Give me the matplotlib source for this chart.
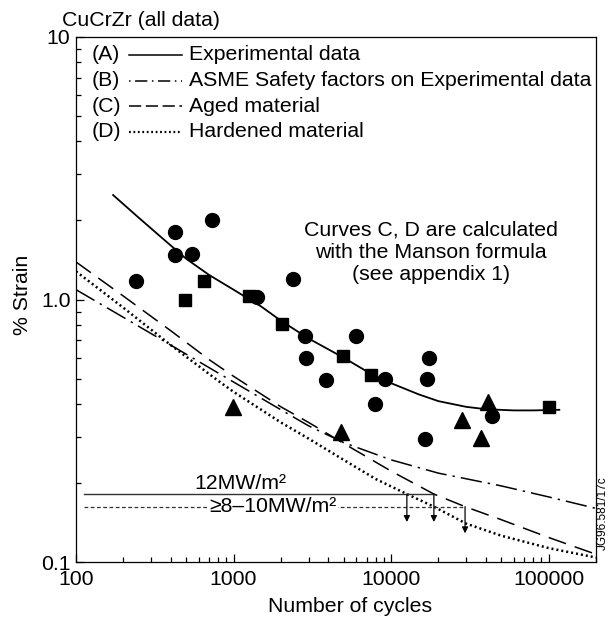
import matplotlib
matplotlib.use("Agg")
import matplotlib.pyplot as plt
from matplotlib.ticker import LogLocator, NullFormatter

plt.rcParams['font.family'] = ['Liberation Sans', 'DejaVu Sans']

# ---- data ----
circle_n = [241, 423, 423, 546, 734, 1416, 2399, 2846, 2870, 3855, 5986,
            9120, 7960, 17380, 16800, 16500, 43900]
circle_s = [1.18, 1.80, 1.48, 1.49, 2.0, 1.02, 1.2, 0.725, 0.60, 0.494, 0.724,
            0.50, 0.40, 0.597, 0.50, 0.293, 0.36]
square_n = [494, 647, 1250, 2043, 4920, 7500, 101000]
square_s = [1.0, 1.18, 1.03, 0.81, 0.61, 0.515, 0.39]
tri_n = [990, 4840, 28400, 41100, 37300]
tri_s = [0.39, 0.314, 0.347, 0.408, 0.297]

# (A) experimental fit
a_n = [172, 250, 350, 500, 700, 1000, 1500, 2000, 3000, 5000, 7500, 10000,
       15000, 20000, 30000, 40000, 60000, 80000, 117000]
a_s = [2.5, 2.05, 1.72, 1.43, 1.24, 1.09, 0.94, 0.83, 0.71, 0.60, 0.52, 0.48,
       0.435, 0.41, 0.39, 0.382, 0.378, 0.378, 0.38]
# (B) ASME safety factors
b_n = [100, 200, 400, 700, 1000, 2000, 3000, 5000, 10000, 20000, 50000, 100000, 200000]
b_s = [1.09, 0.855, 0.67, 0.55, 0.485, 0.38, 0.33, 0.285, 0.245, 0.218, 0.195, 0.177, 0.16]
# (C) aged material
c_n = [100, 200, 400, 700, 1000, 2000, 3000, 5000, 10000, 18700, 29500, 50000, 100000, 200000]
c_s = [1.39, 1.03, 0.76, 0.59, 0.51, 0.39, 0.34, 0.283, 0.222, 0.1815, 0.1625, 0.145, 0.124, 0.107]
# (D) hardened material
d_n = [100, 200, 400, 800, 1000, 2000, 3000, 5000, 8000, 12600, 18700, 30000, 50000, 100000, 200000]
d_s = [1.28, 0.93, 0.67, 0.49, 0.445, 0.34, 0.295, 0.245, 0.207, 0.1815, 0.1625, 0.14, 0.126, 0.113, 0.104]

# heat flux limits
flux_12 = 0.1815
flux_8 = 0.1625
flux_start = 112
flux_12_end = 18700
flux_8_end = 29500
arrow_n = [12600, 18700, 29500]
arrow_top = [0.1815, 0.1815, 0.1625]
arrow_bottom = [0.142, 0.142, 0.1286]

W, H = 611, 621
fig = plt.figure(figsize=(W / 100, H / 100), dpi=100)
L, R, T, B = 76, 596, 37, 562
ax = fig.add_axes([L / W, 1 - B / H, (R - L) / W, (B - T) / H])

FS = 15.3

ax.set_xscale('log')
ax.set_yscale('log')
ax.set_xlim(100, 2e5)
ax.set_ylim(0.1, 10)

# curves
ax.plot(a_n, a_s, color='black', lw=1.3)
ax.plot(b_n, b_s, color='black', lw=1.1, dashes=(14, 4, 1.5, 4))
ax.plot(c_n, c_s, color='black', lw=1.1, dashes=(12, 6))
ax.plot(d_n, d_s, color='black', lw=1.8, dashes=(0.8, 1.2))

# data points
ax.plot(circle_n, circle_s, 'o', color='black', ms=10)
ax.plot(square_n, square_s, 's', color='black', ms=9)
ax.plot(tri_n, tri_s, '^', color='black', ms=12)

# heat flux lines + arrows
ax.plot([flux_start, flux_12_end], [flux_12, flux_12], color='#333333', lw=1.0)
ax.plot([flux_start, flux_8_end], [flux_8, flux_8], color='#333333', lw=0.9, dashes=(3, 2))
for xn, yt, yb in zip(arrow_n, arrow_top, arrow_bottom):
    ax.annotate('', xy=(xn, yb), xytext=(xn, yt),
                arrowprops=dict(arrowstyle='-|>', lw=0.9, color='black',
                                mutation_scale=9, shrinkA=0, shrinkB=0))
ax.text(1100, 0.199, '12MW/m²', fontsize=FS, ha='center', va='center')
ax.text(1785, flux_8, '≥8–10MW/m²', fontsize=FS, ha='center', va='center',
        bbox=dict(facecolor='white', edgecolor='none', pad=1))

# annotation
ax.text(0.683, 0.590, 'Curves C, D are calculated\nwith the Manson formula\n(see appendix 1)',
        transform=ax.transAxes, fontsize=FS, ha='center', va='center', linespacing=1.2)

# hand-drawn style legend
def axpt(x, y):
    return (x - L) / (R - L), (B - y) / (B - T)

legend_rows = [('(A)', 'Experimental data', dict(ls='-')),
               ('(B)', 'ASME Safety factors on Experimental data', dict(dashes=(1, 3, 8, 3))),
               ('(C)', 'Aged material', dict(dashes=(8, 3))),
               ('(D)', 'Hardened material', dict(dashes=(0.8, 1.2), lw=1.6))]
for i, (tag, label, style) in enumerate(legend_rows):
    y = 55 + i * 25.5
    x0, yy = axpt(92, y)
    ax.text(x0, yy, tag, transform=ax.transAxes, fontsize=FS, va='center', ha='left')
    xa, _ = axpt(129, y)
    xb, _ = axpt(182, y)
    kw = dict(color='black', lw=1.1)
    kw.update(style)
    ax.plot([xa, xb], [yy, yy], transform=ax.transAxes, **kw)
    xt, _ = axpt(189, y)
    ax.text(xt, yy, label, transform=ax.transAxes, fontsize=FS, va='center', ha='left')

# ticks
ax.set_xticks([100, 1000, 10000, 100000], labels=['100', '1000', '10000', '100000'])
ax.set_yticks([0.1, 1, 10], labels=['0.1', '1.0', '10'])
ax.xaxis.set_minor_locator(LogLocator(base=10, subs=range(2, 10), numticks=20))
ax.yaxis.set_minor_locator(LogLocator(base=10, subs=range(2, 10), numticks=20))
ax.xaxis.set_minor_formatter(NullFormatter())
ax.yaxis.set_minor_formatter(NullFormatter())
ax.tick_params(which='both', direction='in', labelsize=FS, width=0.9)
ax.tick_params(which='major', length=6)
ax.tick_params(which='minor', length=3.5)
ax.tick_params(axis='x', pad=6)
ax.tick_params(axis='y', pad=4)
for s in ax.spines.values():
    s.set_linewidth(0.9)

fig.text(62 / W, 1 - 20 / H, 'CuCrZr (all data)', fontsize=FS, ha='left', va='center')
fig.text(350 / W, 1 - 607 / H, 'Number of cycles', fontsize=FS, ha='center', va='center')
fig.text(22 / W, 1 - 295 / H, '% Strain', fontsize=FS, ha='center', va='center', rotation=90)
fig.text(603 / W, 1 - 513 / H, 'JG96.581/17c', fontsize=8.5, ha='center', va='center', rotation=90)

fig.savefig('out.png', dpi=100)
